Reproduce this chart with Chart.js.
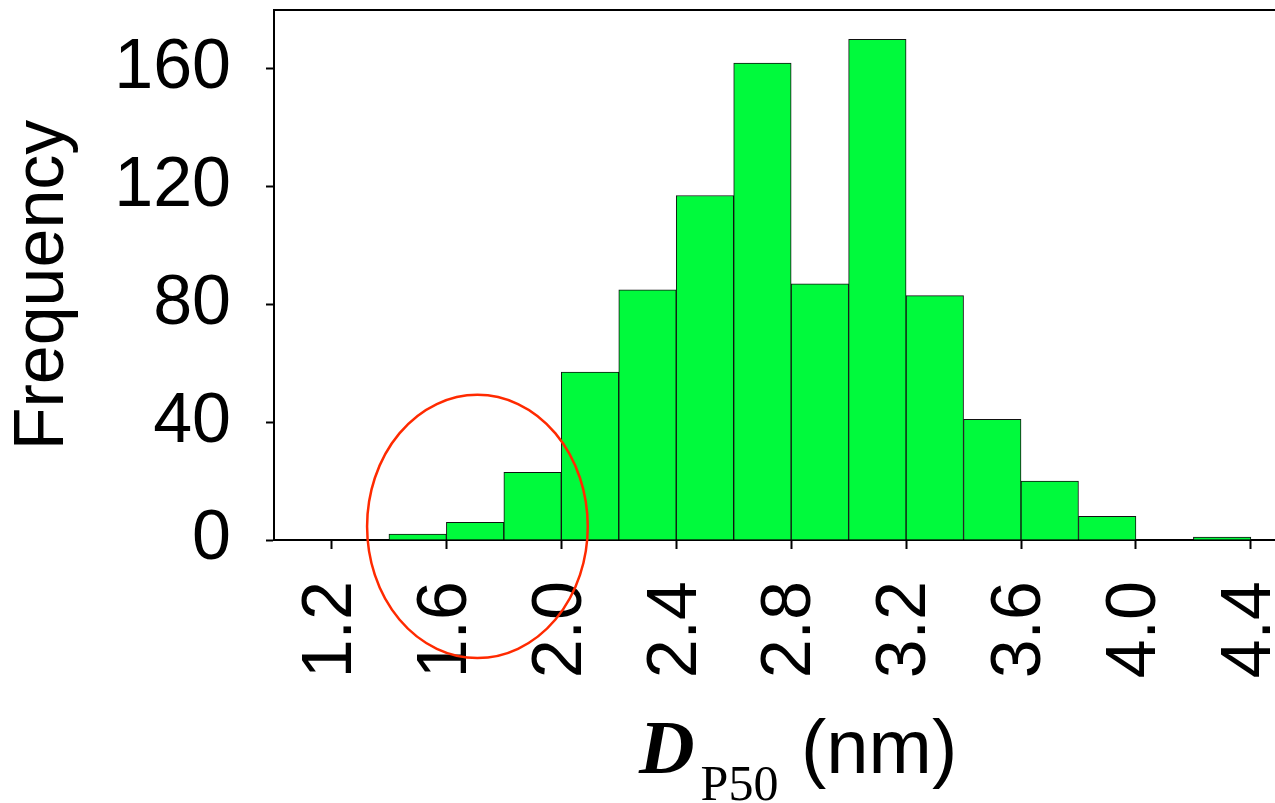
<!DOCTYPE html>
<html>
<head>
<meta charset="utf-8">
<script src="https://cdn.jsdelivr.net/npm/chart.js@4"></script>
<style>
  html, body { margin: 0; padding: 0; background: #fff; }
  #chart { position: relative; width: 1275px; height: 803px; }
</style>
</head>
<body>
<div id="chart"><canvas id="histChart"></canvas></div>
<script>
// histogram bins (width 0.2 nm), centres and counts
const binCenters = [1.3, 1.5, 1.7, 1.9, 2.1, 2.3, 2.5, 2.7, 2.9, 3.1, 3.3, 3.5, 3.7, 3.9, 4.1, 4.3];
const counts = [0, 2, 6, 23, 57, 85, 117, 162, 87, 170, 83, 41, 20, 8, 0, 1];

const xTicks = [1.2, 1.6, 2.0, 2.4, 2.8, 3.2, 3.6, 4.0, 4.4];
const yTicks = [0, 40, 80, 120, 160];

const xMin = 1.0;
const xMax = 4.484;
const yMax = 180;

// red ring around the low tail (data units)
const ringCenter = { x: 1.708, y: 4.6 };
const ringRadius = { x: 0.384, y: 44.7 };

const tickFont = { family: "'Liberation Sans', Arial, sans-serif", size: 70 };

const setTicks = (values) => (scale) => {
  scale.ticks = values.map((v) => ({ value: v }));
};

const overlay = {
  id: "overlay",
  afterDraw(chart) {
    const ctx = chart.ctx;
    const xs = chart.scales.x;
    const ys = chart.scales.y;

    // ellipse marking the left tail
    const cx = xs.getPixelForValue(ringCenter.x);
    const cy = ys.getPixelForValue(ringCenter.y);
    const rx = xs.getPixelForValue(ringCenter.x + ringRadius.x) - cx;
    const ry = cy - ys.getPixelForValue(ringCenter.y + ringRadius.y);
    ctx.save();
    ctx.strokeStyle = "#ff2a00";
    ctx.lineWidth = 2.5;
    ctx.beginPath();
    ctx.ellipse(cx, cy, rx, ry, 0, 0, Math.PI * 2);
    ctx.stroke();
    ctx.restore();

    // y title
    ctx.save();
    ctx.fillStyle = "#000";
    ctx.font = "70px 'Liberation Sans', Arial, sans-serif";
    ctx.translate(63, 285);
    ctx.rotate(-Math.PI / 2);
    ctx.textAlign = "center";
    ctx.textBaseline = "alphabetic";
    ctx.fillText("Frequency", 0, 0);
    ctx.restore();

    // x title: D with subscript P50, then (nm)
    ctx.save();
    ctx.fillStyle = "#000";
    ctx.textBaseline = "alphabetic";
    let x = 639;
    ctx.font = "italic bold 77px 'Liberation Serif', 'Times New Roman', serif";
    ctx.fillText("D", x, 773);
    x += ctx.measureText("D").width + 6;
    ctx.font = "50px 'Liberation Serif', 'Times New Roman', serif";
    ctx.fillText("P50", x, 800);
    ctx.font = "76px 'Liberation Sans', Arial, sans-serif";
    ctx.fillText("(nm)", 801, 773);
    ctx.restore();
  },
};

const chartData = {
  datasets: [
    {
      data: binCenters.map((c, i) => ({ x: c, y: counts[i] })),
      backgroundColor: "rgb(0, 250, 60)",
      borderColor: "#111",
      borderWidth: 1,
      barPercentage: 1,
      categoryPercentage: 1,
    },
  ],
};

const config = {
  type: "bar",
  data: chartData,
  options: {
    responsive: true,
    maintainAspectRatio: false,
    animation: false,
    layout: { padding: { top: 10, right: 0, left: 0, bottom: 0 } },
    plugins: { legend: { display: false }, tooltip: { enabled: false } },
    scales: {
      x: {
        type: "linear",
        position: "bottom",
        offset: false,
        min: xMin,
        max: xMax,
        afterBuildTicks: setTicks(xTicks),
        afterFit: (scale) => {
          scale.height = 263;
          scale.paddingLeft = 0;
          scale.paddingRight = 0;
        },
        grid: { offset: false, drawOnChartArea: false, tickLength: 9, tickWidth: 2, color: "#000" },
        border: { display: true, width: 2, color: "#000" },
        ticks: {
          font: tickFont,
          color: "#000",
          padding: 32,
          minRotation: 90,
          maxRotation: 90,
          autoSkip: false,
          callback: (v) => Number(v).toFixed(1),
        },
      },
      xTop: {
        type: "linear",
        position: "top",
        offset: false,
        min: xMin,
        max: xMax,
        afterFit: (scale) => {
          scale.height = 0;
        },
        grid: { display: false },
        border: { display: true, width: 2, color: "#000" },
        ticks: { display: false },
      },
      y: {
        min: 0,
        max: yMax,
        afterBuildTicks: setTicks(yTicks),
        afterFit: (scale) => {
          scale.width = 274;
          scale.paddingTop = 0;
          scale.paddingBottom = 0;
        },
        grid: { drawOnChartArea: false, tickLength: 8, tickWidth: 2, color: "#000" },
        border: { display: true, width: 2, color: "#000" },
        ticks: { font: tickFont, color: "#000", padding: 35 },
      },
    },
  },
  plugins: [overlay],
};

const ctx = document.getElementById("histChart").getContext("2d");
const histChart = new Chart(ctx, config);
</script>
</body>
</html>
